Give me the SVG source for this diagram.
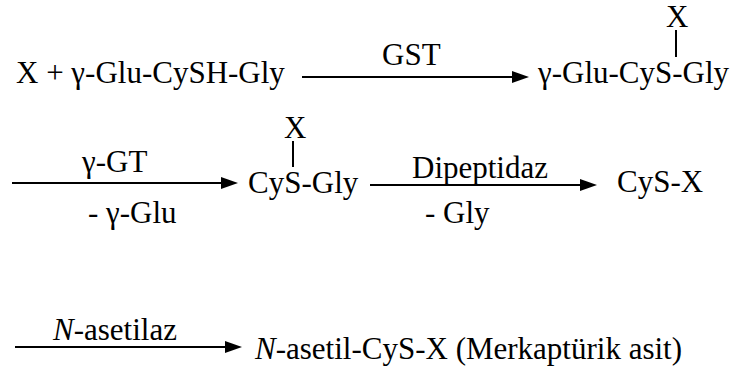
<svg xmlns="http://www.w3.org/2000/svg" width="744" height="369" viewBox="0 0 744 369">
<defs>
<marker id="ah" markerUnits="userSpaceOnUse" markerWidth="17" markerHeight="12" refX="9" refY="6" orient="auto">
<path d="M0,0 L17,6 L0,12 z" fill="#000"/>
</marker>
</defs>
<rect width="744" height="369" fill="#fff"/>
<g id="connectors" stroke="#000" stroke-width="2" fill="none">
<line x1="302" y1="77" x2="521" y2="77" marker-end="url(#ah)"/>
<line x1="12" y1="183" x2="230" y2="183" marker-end="url(#ah)"/>
<line x1="370" y1="185" x2="589" y2="185" marker-end="url(#ah)"/>
<line x1="15" y1="347" x2="234" y2="347" marker-end="url(#ah)"/>
</g>
<g id="reactants"><text x="16" y="83" font-family="Liberation Serif" font-size="31">X + γ-Glu-CySH-Gly</text></g>
<g id="label-gst"><text x="382" y="65" font-family="Liberation Serif" font-size="31">GST</text></g>
<g id="conjugate">
<text x="666" y="27" font-family="Liberation Serif" font-size="31">X</text>
<text x="538" y="83" font-family="Liberation Serif" font-size="31">γ-Glu-CyS-Gly</text>
<line x1="676" y1="30" x2="676" y2="57" stroke="#000" stroke-width="2"/>
</g>
<g id="label-ggt"><text x="82" y="172" font-family="Liberation Serif" font-size="31">γ-GT</text><text x="88" y="223" font-family="Liberation Serif" font-size="31">- γ-Glu</text></g>
<g id="cysgly">
<text x="284" y="138" font-family="Liberation Serif" font-size="31">X</text>
<text x="248" y="193" font-family="Liberation Serif" font-size="31">CyS-Gly</text>
<line x1="293" y1="141" x2="293" y2="167" stroke="#000" stroke-width="2"/>
</g>
<g id="label-dipeptidaz"><text x="412" y="178" font-family="Liberation Serif" font-size="31">Dipeptidaz</text><text x="425" y="223" font-family="Liberation Serif" font-size="31">- Gly</text></g>
<g id="cysx"><text x="617" y="192" font-family="Liberation Serif" font-size="31">CyS-X</text></g>
<g id="label-asetilaz"><text x="53" y="340" font-family="Liberation Serif" font-size="31"><tspan font-style="italic">N</tspan>-asetilaz</text></g>
<g id="mercapturic"><text x="255" y="359" font-family="Liberation Serif" font-size="31"><tspan font-style="italic">N</tspan>-asetil-CyS-X (Merkaptürik asit)</text></g>
</svg>
